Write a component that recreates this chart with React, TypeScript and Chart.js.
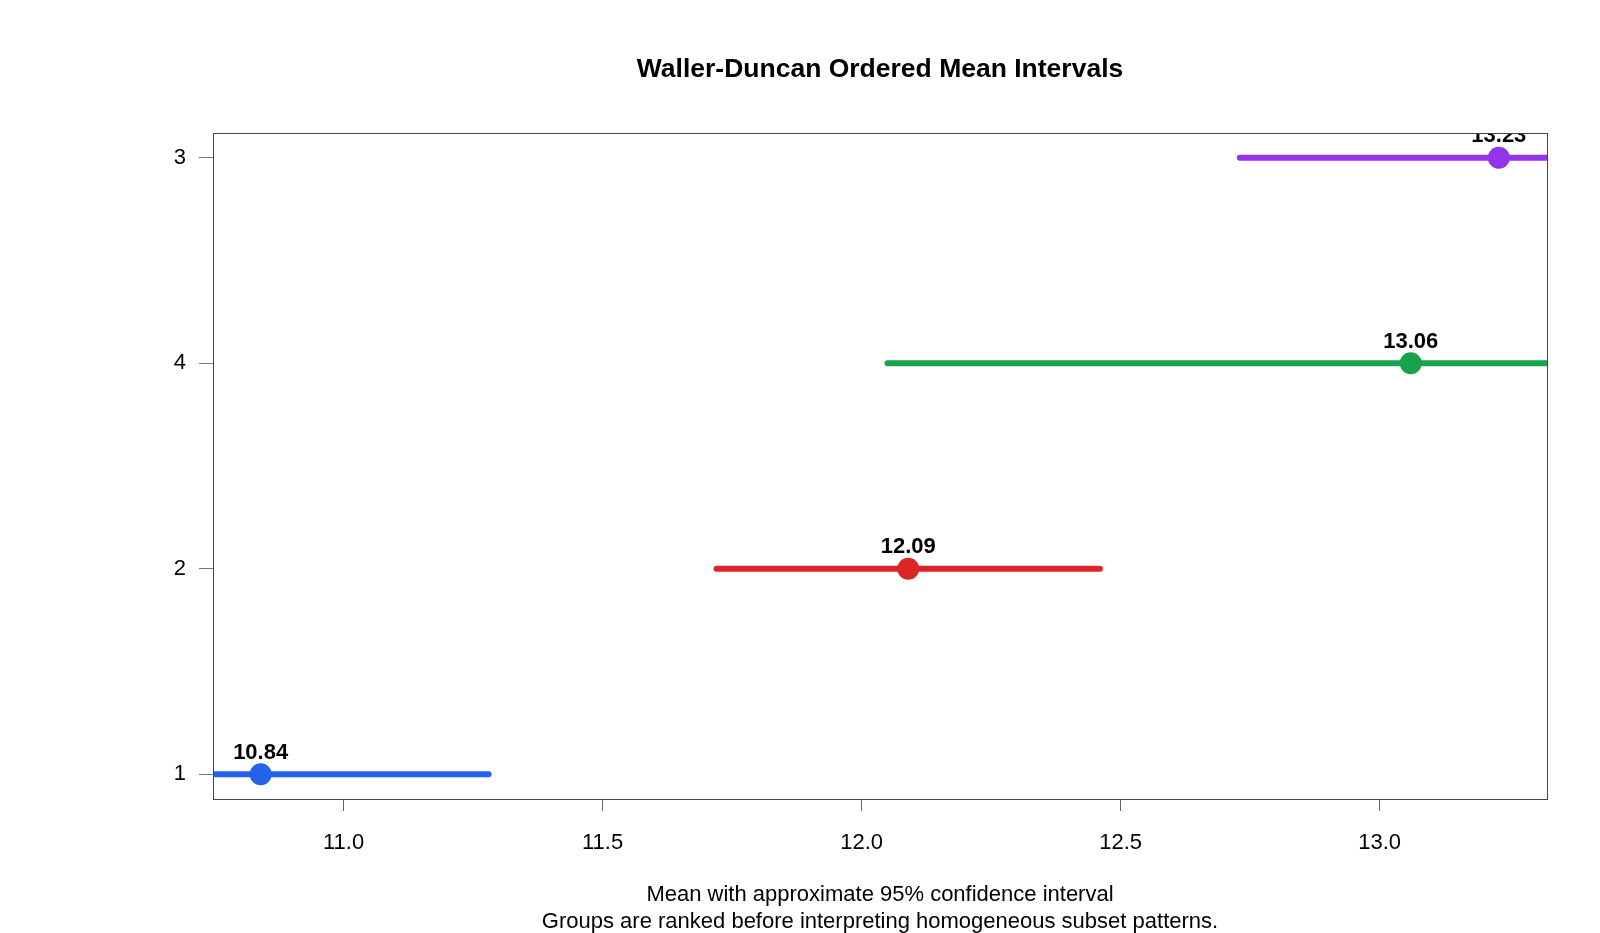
import React, { useEffect, useRef } from "react";
import { Chart, registerables } from "chart.js";

Chart.register(...registerables);

const groups = ["1", "2", "4", "3"];
const means = [10.84, 12.09, 13.06, 13.23];
const lowers = [10.4, 11.72, 12.05, 12.73];
const uppers = [11.28, 12.46, 14.07, 13.73];
const colors = ["#2563EB", "#DC2626", "#16A34A", "#9333EA"];
const xTicks = [11.0, 11.5, 12.0, 12.5, 13.0];
const titleText = "Waller-Duncan Ordered Mean Intervals";
const footLines = [
  "Mean with approximate 95% confidence interval",
  "Groups are ranked before interpreting homogeneous subset patterns.",
];

const FONT = "'Liberation Sans', Arial, Helvetica, sans-serif";

export default function App() {
  const ref = useRef<HTMLCanvasElement | null>(null);

  useEffect(() => {
    const canvas = ref.current;
    if (!canvas) return;

    const pointSets = groups.map((g, i) => ({
      type: "scatter" as const,
      label: "mean " + g,
      data: [{ x: means[i], y: i + 1 }],
      backgroundColor: colors[i],
      borderColor: colors[i],
      borderWidth: 0,
      pointRadius: 11,
      pointHoverRadius: 11,
      showLine: false,
      order: 0,
      clip: false as const,
    }));
    const lineSets = groups.map((g, i) => ({
      type: "line" as const,
      label: "ci " + g,
      data: [
        { x: lowers[i], y: i + 1 },
        { x: uppers[i], y: i + 1 },
      ],
      borderColor: colors[i],
      backgroundColor: colors[i],
      borderWidth: 6,
      borderCapStyle: "round" as const,
      pointRadius: 0,
      pointHoverRadius: 0,
      showLine: true,
      fill: false,
      order: 1,
      clip: 0,
    }));

    const overlay = {
      id: "overlay",
      afterDatasetsDraw(chart: any) {
        const ctx = chart.ctx;
        const area = chart.chartArea;
        const xs = chart.scales.x;
        const ys = chart.scales.y;
        ctx.save();
        ctx.beginPath();
        ctx.rect(area.left, area.top, area.right - area.left, area.bottom - area.top);
        ctx.clip();
        ctx.fillStyle = "#000";
        ctx.font = `bold 22px ${FONT}`;
        ctx.textAlign = "center";
        ctx.textBaseline = "middle";
        means.forEach((m, i) => {
          const px = xs.getPixelForValue(m);
          const py = ys.getPixelForValue(i + 1);
          ctx.fillText(m.toFixed(2), px, py - 21.5);
        });
        ctx.restore();
        ctx.save();
        ctx.strokeStyle = "#444";
        ctx.lineWidth = 1;
        ctx.strokeRect(
          Math.round(area.left) + 0.5,
          Math.round(area.top) + 0.5,
          Math.round(area.right - area.left),
          Math.round(area.bottom - area.top)
        );
        ctx.restore();
      },
      afterDraw(chart: any) {
        const ctx = chart.ctx;
        const area = chart.chartArea;
        const cx = (area.left + area.right) / 2;
        ctx.save();
        ctx.fillStyle = "#000";
        ctx.textAlign = "center";
        ctx.textBaseline = "middle";
        ctx.font = `bold 26.5px ${FONT}`;
        ctx.fillText(titleText, cx, 69.5);
        ctx.font = `22px ${FONT}`;
        ctx.fillText(footLines[0], cx, 895);
        ctx.fillText(footLines[1], cx, 922);
        ctx.restore();
      },
    };

    const chart = new Chart(canvas, {
      type: "scatter",
      data: { datasets: [...pointSets, ...lineSets] as any },
      options: {
        responsive: false,
        animation: false,
        devicePixelRatio: 1,
        layout: { padding: { top: 133, right: 53, left: 0, bottom: 0 } },
        plugins: {
          legend: { display: false },
          tooltip: { enabled: false },
          title: { display: false },
        },
        scales: {
          x: {
            type: "linear",
            min: 10.748,
            max: 13.323,
            afterBuildTicks: (s: any) => {
              s.ticks = xTicks.map((v) => ({ value: v }));
            },
            afterFit: (s: any) => {
              s.height = 134;
            },
            grid: {
              drawOnChartArea: false,
              drawTicks: true,
              tickLength: 12,
              tickColor: "#666",
            },
            border: { display: true, color: "#444" },
            ticks: {
              color: "#000",
              font: { size: 22, family: FONT },
              padding: 19,
              maxRotation: 0,
              callback: (v: any) => Number(v).toFixed(1),
            },
          },
          y: {
            type: "linear",
            min: 0.88,
            max: 4.12,
            afterBuildTicks: (s: any) => {
              s.ticks = groups.map((_, i) => ({ value: i + 1 }));
            },
            afterFit: (s: any) => {
              s.width = 213;
            },
            grid: {
              drawOnChartArea: false,
              drawTicks: true,
              tickLength: 14,
              tickColor: "#777",
            },
            border: { display: true, color: "#444" },
            ticks: {
              color: "#000",
              font: { size: 22, family: FONT },
              padding: 13,
              callback: (v: any) => groups[Math.round(Number(v)) - 1] ?? "",
            },
          },
        },
      },
      plugins: [overlay],
    });

    return () => chart.destroy();
  }, []);

  return (
    <div style={{ position: "fixed", left: 0, top: 0, width: 1600, height: 933, background: "#fff" }}>
      <canvas ref={ref} width={1600} height={933} style={{ width: 1600, height: 933, display: "block" }} />
    </div>
  );
}
